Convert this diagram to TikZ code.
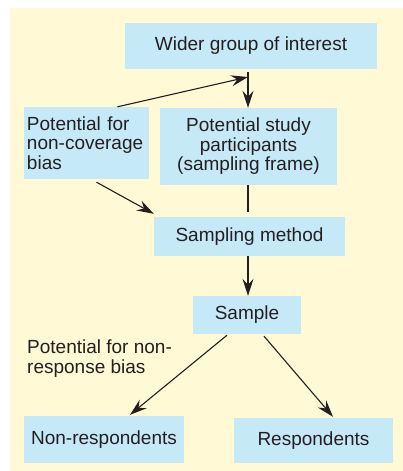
\documentclass[tikz,border=0pt]{standalone}
\usepackage{fontspec}
\setmainfont{Liberation Sans}
\usepackage{tikz}
\usetikzlibrary{calc,arrows.meta}
\definecolor{boxblue}{RGB}{198,233,248}
\definecolor{paleyellow}{RGB}{255,249,214}
\definecolor{inkgray}{RGB}{35,31,32}
\tikzset{
    >={Stealth[length=17pt,width=11pt,inset=6pt]},
    box/.style={
        rectangle,
        fill=boxblue,
        text=inkgray,
        inner sep=3pt,
        align=center
    },
    line/.style={draw=inkgray, line width=1.1pt},
    font={\fontsize{19pt}{19.5pt}\selectfont},
}

\begin{document}
\begin{tikzpicture}
[
    x=1pt, y=-1pt,
]
\useasboundingbox (0,0) rectangle (403,471);
\fill[paleyellow] (10,8) rectangle (403,471);
\node(Wider) at (251, 46)[box, minimum width=252pt, minimum height=46pt]{Wider group of interest};
\node(Cov) at (86.5, 143)[box, minimum width=125pt, minimum height=72pt, text width=119pt, align=left]{Potential for\\non-coverage\\bias};
\node(Part) at (248.5, 146.5)[box, minimum width=177pt, minimum height=77pt]{Potential study\\participants\\(sampling frame)};
\node(Samp) at (249.5, 236.5)[box, minimum width=191pt, minimum height=39pt]{Sampling method};
\node(Sample) at (247, 315)[box, minimum width=108pt, minimum height=38pt]{Sample};
\node(NRbias) at (27, 340)[anchor=north west, inner sep=0pt, text=inkgray, align=left]{Potential for non-\\response bias};
\node(NonResp) at (104, 439.5)[box, minimum width=160pt, minimum height=47pt]{Non-respondents};
\node(Resp) at (313.5, 440.5)[box, minimum width=159pt, minimum height=45pt]{Respondents};
\coordinate(Join) at (248, 77);
% arrows
\draw[line, ->] ($(Wider.south -| Join)+(0,3)$) -- (Part.north -| Join);
\draw[line, ->] ($(Cov.north)+(31,0)$) -- (Join);
\draw[line] (Part.south -| Join) -- ($(Samp.north -| Join)+(0,-5)$);
\draw[line, ->] ($(Cov.south)+(10,3)$) -- ($(Samp.north west)+(0,-3)$);
\draw[line, ->] (Samp.south -| Join) -- (Sample.north -| Join);
\draw[line, ->] ($(Sample.south)+(-20,1)$) -- ($(NonResp.north)+(26,-1)$);
\draw[line, ->] ($(Sample.south)+(17,2)$) -- ($(Resp.north)+(19.5,-1)$);
\end{tikzpicture}
\end{document}
